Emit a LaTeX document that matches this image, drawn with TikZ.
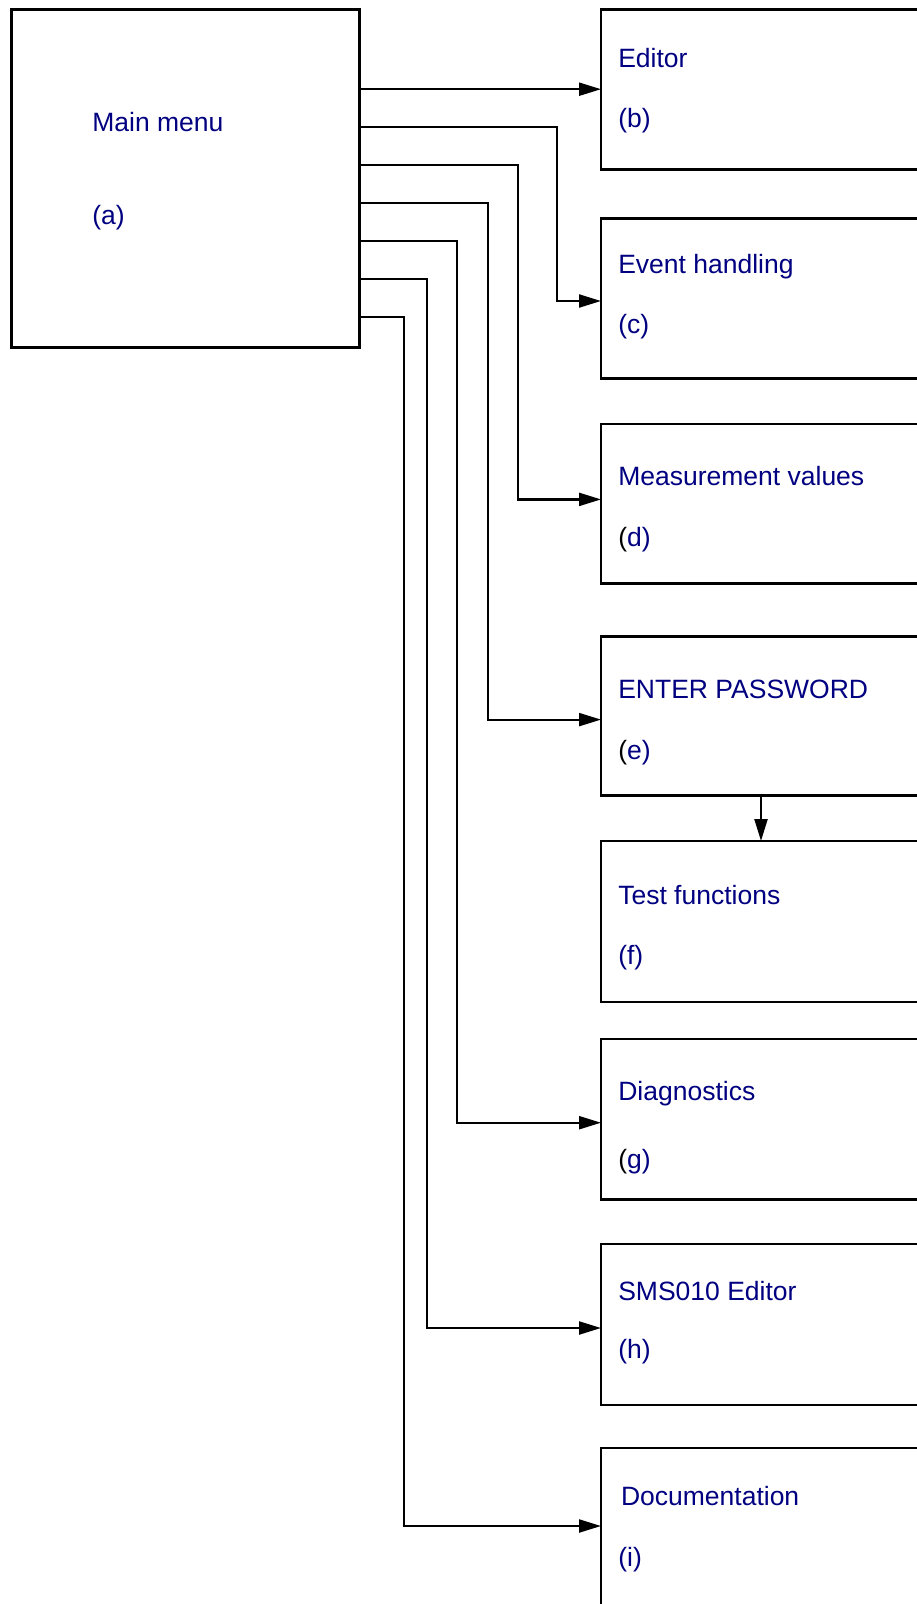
\documentclass[tikz,border=0pt]{standalone}
\usepackage{fontspec}
\setmainfont{Liberation Sans}
\usetikzlibrary{arrows.meta}
\definecolor{txtblue}{RGB}{0,0,128}
\begin{document}
\begin{tikzpicture}[x=1pt,y=-1pt,
  box/.style={draw=black,line width=2.9pt,minimum width=500pt,minimum height=160pt,anchor=north west,inner sep=0pt,outer sep=0pt},
  lbl/.style={anchor=base west,inner sep=0pt,outer sep=0pt,text=txtblue,font=\fontsize{26.5}{30}\selectfont},
  conn/.style={line width=2.2pt,-{Triangle[length=22pt,width=13pt]}}]
\useasboundingbox (0,0) rectangle (917,1604);
\clip (0,0) rectangle (917,1604);
% boxes
\node[box,minimum width=347.6pt,minimum height=338.4pt] (a) at (11.7,9.3) {};
\node[box,minimum height=160pt] (b) at (601,9.2) {};
\node[box,minimum height=160pt] (c) at (601,218.3) {};
\node[box,minimum height=159.3pt] (d) at (601,424) {};
\node[box,minimum height=158.6pt] (e) at (601,636.7) {};
\node[box,minimum height=161pt] (f) at (601,841) {};
\node[box,minimum height=160.4pt] (g) at (601,1039) {};
\node[box,minimum height=161pt] (h) at (601,1244) {};
\node[box,minimum height=200pt] (i) at (601,1448) {};
% labels
\node[lbl] (ta1) at (92.4,131.7) {Main menu};
\node[lbl] (ta2) at (92.4,224.5) {(a)};
\node[lbl] (tb1) at (618.3,67) {Editor};
\node[lbl] (tb2) at (618.3,127.7) {(b)};
\node[lbl] (tc1) at (618.3,273.3) {Event handling};
\node[lbl] (tc2) at (618.3,333.5) {(c)};
\node[lbl] (td1) at (618.3,485.7) {Measurement values};
\node[lbl] (td2) at (618.3,546) {\textcolor{black}{(}d)};
\node[lbl] (te1) at (618.3,698.7) {ENTER PASSWORD};
\node[lbl] (te2) at (618.3,759) {\textcolor{black}{(}e)};
\node[lbl] (tf1) at (618.3,904.3) {Test functions};
\node[lbl] (tf2) at (618.3,964.4) {(f)};
\node[lbl] (tg1) at (618.3,1100.7) {Diagnostics};
\node[lbl] (tg2) at (618.3,1168.5) {\textcolor{black}{(}g)};
\node[lbl] (th1) at (618.3,1300) {SMS010 Editor};
\node[lbl] (th2) at (618.3,1358.4) {(h)};
\node[lbl] (ti1) at (621,1505) {Documentation};
\node[lbl] (ti2) at (618.3,1566) {(i)};
% connectors
\draw[conn] (a.east |- b.west) -- (b.west);
\draw[conn] (a.east |- 0,126.7) -| (556.7,301) -- (c.west |- 0,301);
\draw[conn] (a.east |- 0,165) -| (518.3,499.4) -- (d.west |- 0,499.4);
\draw[conn] (a.east |- 0,203) -| (488,719.6) -- (e.west |- 0,719.6);
\draw[conn] (a.east |- 0,241) -| (457,1122.7) -- (g.west |- 0,1122.7);
\draw[conn] (a.east |- 0,279) -| (427.3,1328) -- (h.west |- 0,1328);
\draw[conn] (a.east |- 0,317) -| (404.3,1526) -- (i.west |- 0,1526);
\draw[conn] (e.south -| 761,0) -- (f.north -| 761,0);
\end{tikzpicture}
\end{document}
